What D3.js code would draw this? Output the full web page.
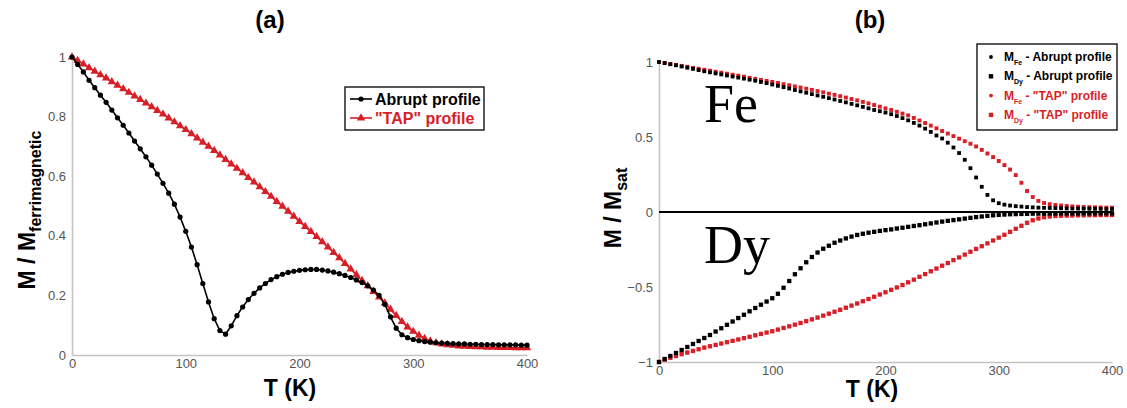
<!DOCTYPE html>
<html><head><meta charset="utf-8">
<script src="https://cdn.jsdelivr.net/npm/d3@7"></script>
<style>
html,body{margin:0;padding:0;background:#fff;}
svg{display:block;}
text{font-family:"Liberation Sans",Arial,Helvetica,sans-serif;}
</style></head>
<body><svg id="c" width="1127" height="408"></svg>
<script>
// Temperature grid (K)
const temps = [0,5,10,15,20,25,30,35,40,45,50,55,60,65,70,75,80,85,90,95,100,105,110,115,120,125,130,135,140,145,150,155,160,165,170,175,180,185,190,195,200,205,210,215,220,225,230,235,240,245,250,255,260,265,270,275,280,285,290,295,300,305,310,315,320,325,330,335,340,345,350,355,360,365,370,375,380,385,390,395,400];

// Panel (a): M / M_ferrimagnetic
const abruptA = [1.000,0.975,0.950,0.922,0.897,0.872,0.848,0.822,0.796,0.771,0.745,0.718,0.692,0.665,0.637,0.607,0.576,0.543,0.506,0.463,0.415,0.362,0.303,0.240,0.178,0.122,0.082,0.070,0.098,0.132,0.161,0.186,0.207,0.225,0.240,0.253,0.263,0.271,0.277,0.281,0.284,0.286,0.287,0.287,0.285,0.282,0.278,0.273,0.267,0.260,0.252,0.243,0.232,0.218,0.200,0.170,0.128,0.090,0.068,0.058,0.052,0.048,0.045,0.043,0.041,0.040,0.039,0.038,0.037,0.037,0.036,0.036,0.035,0.035,0.035,0.034,0.034,0.034,0.034,0.033,0.033];
const tapA = [1.000,0.988,0.976,0.964,0.952,0.940,0.929,0.917,0.905,0.893,0.881,0.869,0.857,0.845,0.833,0.820,0.808,0.795,0.782,0.769,0.756,0.742,0.728,0.714,0.700,0.686,0.671,0.656,0.641,0.626,0.611,0.595,0.580,0.564,0.548,0.532,0.515,0.499,0.482,0.465,0.448,0.431,0.414,0.397,0.380,0.362,0.344,0.326,0.307,0.288,0.269,0.250,0.232,0.213,0.194,0.174,0.153,0.132,0.112,0.094,0.079,0.066,0.055,0.047,0.041,0.037,0.034,0.032,0.030,0.029,0.028,0.027,0.027,0.026,0.026,0.025,0.025,0.025,0.024,0.024,0.024];

// Panel (b): M / M_sat
const feAbrupt = [1.000,0.993,0.985,0.978,0.970,0.962,0.954,0.946,0.938,0.931,0.924,0.917,0.910,0.903,0.896,0.889,0.882,0.875,0.867,0.859,0.850,0.841,0.832,0.823,0.813,0.804,0.795,0.786,0.777,0.768,0.759,0.750,0.740,0.731,0.721,0.711,0.701,0.691,0.680,0.672,0.663,0.652,0.640,0.626,0.611,0.594,0.576,0.556,0.534,0.510,0.490,0.462,0.430,0.393,0.348,0.292,0.230,0.168,0.114,0.078,0.059,0.049,0.043,0.039,0.036,0.033,0.031,0.029,0.028,0.027,0.026,0.025,0.024,0.023,0.023,0.022,0.022,0.021,0.021,0.020,0.020];
const dyAbrupt = [-1.000,-0.980,-0.960,-0.940,-0.920,-0.900,-0.880,-0.860,-0.840,-0.820,-0.797,-0.775,-0.752,-0.730,-0.707,-0.685,-0.662,-0.640,-0.618,-0.597,-0.575,-0.545,-0.505,-0.460,-0.415,-0.375,-0.335,-0.300,-0.270,-0.245,-0.225,-0.205,-0.190,-0.176,-0.164,-0.153,-0.145,-0.138,-0.132,-0.126,-0.121,-0.116,-0.110,-0.105,-0.099,-0.093,-0.088,-0.082,-0.076,-0.070,-0.064,-0.059,-0.054,-0.049,-0.044,-0.039,-0.034,-0.030,-0.026,-0.022,-0.019,-0.017,-0.015,-0.014,-0.013,-0.012,-0.011,-0.011,-0.011,-0.010,-0.010,-0.010,-0.010,-0.010,-0.010,-0.009,-0.009,-0.009,-0.009,-0.009,-0.009];
const feTap = [1.000,0.994,0.987,0.981,0.974,0.968,0.961,0.955,0.948,0.942,0.935,0.929,0.922,0.915,0.909,0.902,0.895,0.888,0.881,0.874,0.867,0.860,0.852,0.845,0.837,0.830,0.822,0.814,0.806,0.798,0.789,0.781,0.772,0.763,0.753,0.744,0.734,0.724,0.713,0.702,0.691,0.680,0.668,0.656,0.644,0.627,0.610,0.593,0.576,0.558,0.540,0.523,0.506,0.489,0.472,0.455,0.437,0.414,0.390,0.366,0.340,0.313,0.283,0.246,0.195,0.140,0.100,0.074,0.060,0.052,0.047,0.043,0.040,0.037,0.035,0.033,0.032,0.031,0.030,0.029,0.029];
const dyTap = [-1.000,-0.985,-0.972,-0.960,-0.948,-0.937,-0.926,-0.915,-0.904,-0.895,-0.886,-0.877,-0.868,-0.859,-0.850,-0.841,-0.832,-0.822,-0.813,-0.804,-0.795,-0.784,-0.773,-0.762,-0.751,-0.740,-0.728,-0.716,-0.704,-0.691,-0.678,-0.665,-0.652,-0.638,-0.624,-0.610,-0.595,-0.580,-0.565,-0.550,-0.535,-0.519,-0.503,-0.487,-0.469,-0.451,-0.432,-0.414,-0.395,-0.377,-0.358,-0.340,-0.321,-0.303,-0.284,-0.265,-0.246,-0.228,-0.209,-0.190,-0.171,-0.152,-0.132,-0.112,-0.092,-0.072,-0.055,-0.043,-0.035,-0.030,-0.027,-0.025,-0.024,-0.023,-0.022,-0.022,-0.021,-0.021,-0.020,-0.020,-0.020];

const xTicks = [0,100,200,300,400];
const yTicksA = [0,0.2,0.4,0.6,0.8,1];
const yTicksB = [-1,-0.5,0,0.5,1];
const legendA = ["Abrupt profile", "\"TAP\" profile"];
const legendB = [["Fe"," - Abrupt profile"],["Dy"," - Abrupt profile"],["Fe"," - \"TAP\" profile"],["Dy"," - \"TAP\" profile"]];

const RED = "#d81e26", BLACK = "#000", AXIS = "#c4c4c4", TICK = "#555";
const svg = d3.select("#c");

function drawAxes(g, x, y, yTicks, yFmt) {
  const xa = d3.axisBottom(x).tickValues(xTicks).tickSize(0).tickPadding(4).tickFormat(d3.format("d"));
  const ya = d3.axisLeft(y).tickValues(yTicks).tickSize(0).tickPadding(6).tickFormat(yFmt);
  const gx = g.append("g").attr("transform", `translate(0,${y.range()[0]})`).call(xa);
  const gy = g.append("g").attr("transform", `translate(${x.range()[0]},0)`).call(ya);
  [gx, gy].forEach(a => {
    a.select(".domain").attr("stroke", AXIS).attr("stroke-width", 1.6);
    a.selectAll("text").attr("fill", TICK).style("font-size", "13px").style("font-family", "'Liberation Sans',Arial,sans-serif");
  });
}

// ---------- Panel (a) ----------
const xa = d3.scaleLinear().domain([0,400]).range([72,527]);
const ya = d3.scaleLinear().domain([0,1]).range([355,57]);
const ga = svg.append("g");
drawAxes(ga, xa, ya, yTicksA, d => d === 0 ? "0" : (d === 1 ? "1" : d3.format(".1f")(d)));

const lineA = d3.line().x((d,i) => xa(temps[i])).y(d => ya(d));
ga.append("path").datum(tapA).attr("d", lineA).attr("fill","none").attr("stroke",RED).attr("stroke-width",1.7);
const tri = d3.symbol().type(d3.symbolTriangle).size(30);
ga.selectAll(".tri").data(tapA).join("path").attr("class","tri")
  .attr("d", tri).attr("transform",(d,i)=>`translate(${xa(temps[i])},${ya(d)})`).attr("fill",RED);
ga.append("path").datum(abruptA).attr("d", lineA).attr("fill","none").attr("stroke",BLACK).attr("stroke-width",1.6);
ga.selectAll(".dot").data(abruptA).join("circle").attr("class","dot")
  .attr("cx",(d,i)=>xa(temps[i])).attr("cy",d=>ya(d)).attr("r",2.6).attr("fill",BLACK);

ga.append("text").attr("x",270).attr("y",28).attr("text-anchor","middle")
  .style("font-size","24px").style("font-weight","bold").text("(a)");
ga.append("text").attr("x",290).attr("y",396).attr("text-anchor","middle")
  .style("font-size","23px").style("font-weight","bold").text("T (K)");
const yla = ga.append("text").attr("transform","translate(35,210) rotate(-90)").attr("text-anchor","middle")
  .style("font-size","23px").style("font-weight","bold");
yla.append("tspan").text("M / M");
yla.append("tspan").attr("dy",6).style("font-size","16px").text("ferrimagnetic");

// legend (a)
const la = ga.append("g");
la.append("rect").attr("x",345).attr("y",87).attr("width",139).attr("height",43)
  .attr("fill","#fff").attr("stroke","#222").attr("stroke-width",1.5);
legendA.forEach((t,i) => {
  const yy = 99 + i*19;
  const c = i === 0 ? BLACK : RED;
  la.append("line").attr("x1",350).attr("x2",372).attr("y1",yy).attr("y2",yy).attr("stroke",c).attr("stroke-width",1.6);
  if (i === 0) la.append("circle").attr("cx",361).attr("cy",yy).attr("r",2.6).attr("fill",c);
  else la.append("path").attr("d",tri).attr("transform",`translate(361,${yy})`).attr("fill",c);
  la.append("text").attr("x",375).attr("y",yy+6).attr("fill",c)
    .style("font-size","16px").style("font-weight","bold").text(t);
});

// ---------- Panel (b) ----------
const xb = d3.scaleLinear().domain([0,400]).range([659,1112]);
const yb = d3.scaleLinear().domain([-1,1]).range([362,62]);
const gb = svg.append("g");
drawAxes(gb, xb, yb, yTicksB, d => d3.format("")(d));
gb.append("line").attr("x1",xb(0)).attr("x2",xb(400)).attr("y1",yb(0)).attr("y2",yb(0))
  .attr("stroke","#000").attr("stroke-width",2);

function sq(series, color, s) {
  gb.append("g").selectAll("rect").data(series).join("rect")
    .attr("x",(d,i)=>xb(temps[i])-s/2).attr("y",d=>yb(d)-s/2)
    .attr("width",s).attr("height",s).attr("fill",color);
}
sq(feTap, RED, 3.9);
sq(dyTap, RED, 4.3);
sq(feAbrupt, BLACK, 3.8);
sq(dyAbrupt, BLACK, 4.3);

gb.append("text").attr("x",704).attr("y",122).style("font-family","'Liberation Serif','Times New Roman',serif")
  .style("font-size","54px").attr("fill","#000").text("Fe");
gb.append("text").attr("x",704).attr("y",263).style("font-family","'Liberation Serif','Times New Roman',serif")
  .style("font-size","54px").attr("fill","#000").text("Dy");

gb.append("text").attr("x",870).attr("y",28).attr("text-anchor","middle")
  .style("font-size","24px").style("font-weight","bold").text("(b)");
gb.append("text").attr("x",872).attr("y",397).attr("text-anchor","middle")
  .style("font-size","23px").style("font-weight","bold").text("T (K)");
const ylb = gb.append("text").attr("transform","translate(621,208) rotate(-90)").attr("text-anchor","middle")
  .style("font-size","23px").style("font-weight","bold");
ylb.append("tspan").text("M / M");
ylb.append("tspan").attr("dy",6).style("font-size","16px").text("sat");

// legend (b)
const lb = gb.append("g");
lb.append("rect").attr("x",977).attr("y",44).attr("width",140).attr("height",86)
  .attr("fill","#fff").attr("stroke","#222").attr("stroke-width",1.5);
legendB.forEach((p,i) => {
  const yy = 57 + i*19.3;
  const c = i < 2 ? BLACK : RED;
  const s = 4.4;
  if (i % 2 === 0) lb.append("circle").attr("cx",991).attr("cy",yy).attr("r",1.9).attr("fill",c);
  else lb.append("rect").attr("x",991-s/2).attr("y",yy-s/2).attr("width",s).attr("height",s).attr("fill",c);
  const t = lb.append("text").attr("x",1004).attr("y",yy+4).attr("fill",c)
    .style("font-size","12px").style("font-weight","bold");
  t.append("tspan").text("M");
  t.append("tspan").attr("dy",4).style("font-size","7px").text(p[0]);
  t.append("tspan").attr("dy",-4).text(p[1]);
});
</script></body></html>
